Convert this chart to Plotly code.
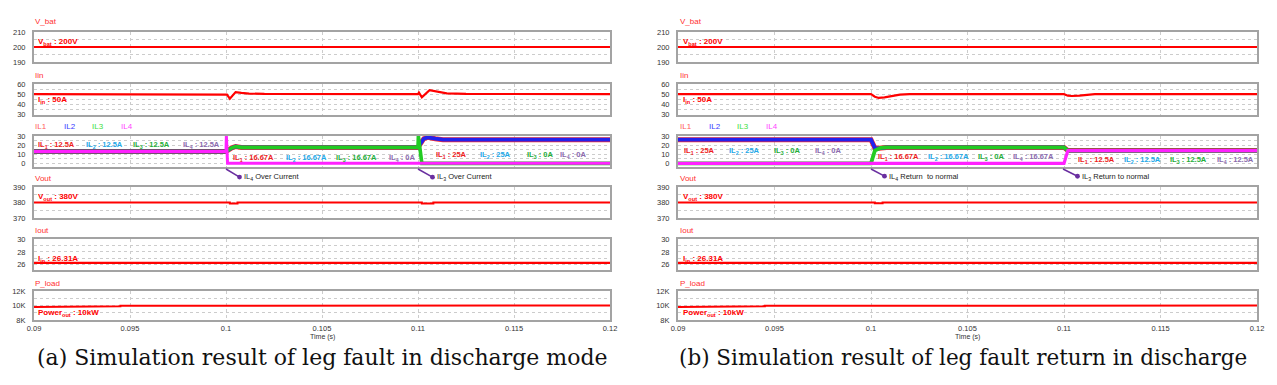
import plotly.graph_objects as go

# page body has an 8px margin; figure sized to fit the 1277x385 window
PAGE_W, PAGE_H = 1277, 385
OFF = 8
W, H = PAGE_W - 2 * OFF, PAGE_H - 2 * OFF

# ---------------- data ----------------
x_ticks = [0.09, 0.095, 0.1, 0.105, 0.11, 0.115, 0.12]
x_tick_text = ["0.09", "0.095", "0.1", "0.105", "0.11", "0.115", "0.12"]

# axis ranges / ticks per row
vbat_range = [190, 210]; vbat_ticks = [190, 200, 210]
iin_range = [30, 60];   iin_ticks = [30, 40, 50, 60]
il_range = [-4, 30];    il_ticks = [0, 10, 20, 30]
vout_range = [370, 390]; vout_ticks = [370, 380, 390]
iout_range = [25.2, 30]; iout_ticks = [26, 28, 30]
pload_range = [8000, 12000]; pload_ticks = [8000, 10000, 12000]
pload_tick_text = ["8K", "10K", "12K"]

# (a) leg fault in discharge mode
t_vbat_a = [0.09, 0.12]
vbat_a = [200, 200]
t_iin_a = [0.09, 0.1, 0.10005, 0.1002, 0.1005, 0.1008, 0.1012, 0.102, 0.11, 0.11005, 0.1102, 0.1106, 0.111, 0.1115, 0.1125, 0.12]
iin_a = [50, 50, 49.5, 45.5, 52, 51.3, 50.6, 50.2, 50, 51.5, 47, 54, 52.5, 50.8, 50.2, 50]
t_il12_a = [0.09, 0.1, 0.1003, 0.1005, 0.1008, 0.11, 0.1103, 0.1105, 0.1109, 0.1113, 0.12]
il1_a = [13, 13, 17, 18.5, 17.5, 17.5, 27, 28.5, 27, 26, 26]
il2_a = [13, 13, 17, 18.5, 17.5, 17.5, 27, 28.5, 27, 26, 26]
t_il3_a = [0.09, 0.1, 0.1003, 0.1005, 0.1008, 0.11, 0.11002, 0.1102, 0.12]
il3_a = [13, 13, 17, 18.5, 17.5, 17.5, 30, 0, 0]
t_il4_a = [0.09, 0.1, 0.10002, 0.10008, 0.12]
il4_a = [13, 13, 30, 0, 0]
t_vout_a = [0.09, 0.1002, 0.1002, 0.1006, 0.1006, 0.1102, 0.1102, 0.1108, 0.1108, 0.12]
vout_a = [380, 380, 379.4, 379.4, 380, 380, 379.4, 379.4, 380, 380]
t_iout_a = [0.09, 0.12]
iout_a = [26.31, 26.31]
t_pload_a = [0.09, 0.0906, 0.0906, 0.0945, 0.0945, 0.0991, 0.0991, 0.12]
pload_a = [9800, 9800, 9900, 9900, 9950, 9950, 10000, 10000]

# (b) leg fault return in discharge
t_vbat_b = [0.09, 0.12]
vbat_b = [200, 200]
t_iin_b = [0.09, 0.1, 0.1002, 0.1004, 0.1007, 0.101, 0.1015, 0.102, 0.11, 0.1102, 0.1104, 0.1108, 0.1116, 0.12]
iin_b = [50, 50, 47.5, 46.3, 46.8, 48, 49.5, 50.1, 50, 48.5, 48.2, 48.6, 50, 50]
t_il12_b = [0.09, 0.1, 0.1002, 0.1004, 0.1008, 0.11, 0.1102, 0.12]
il1_b = [26, 26, 16.8, 16.5, 17.5, 17.5, 14, 14]
il2_b = [26, 26, 16.8, 16.5, 17.5, 17.5, 14, 14]
t_il3_b = [0.09, 0.1, 0.1002, 0.1005, 0.1008, 0.11, 0.1102, 0.12]
il3_b = [0, 0, 14, 17, 17.5, 17.5, 14, 14]
t_il4_b = [0.09, 0.11, 0.1102, 0.12]
il4_b = [0, 0, 14, 14]
t_vout_b = [0.09, 0.1002, 0.1002, 0.1006, 0.1006, 0.12]
vout_b = [380, 380, 379.5, 379.5, 380, 380]
t_iout_b = [0.09, 0.12]
iout_b = [26.31, 26.31]
t_pload_b = [0.09, 0.0906, 0.0906, 0.0945, 0.0945, 0.0991, 0.0991, 0.12]
pload_b = [9800, 9800, 9900, 9900, 9950, 9950, 10000, 10000]

# ---------------- layout helpers ----------------
rows_px = [(32, 62), (84, 114.5), (136, 167), (187, 218), (239, 270), (291, 320)]
cols_px = [(34, 610), (678, 1257)]
row_axes = [
    (vbat_range, vbat_ticks, [str(v) for v in vbat_ticks], 5),
    (iin_range, iin_ticks, [str(v) for v in iin_ticks], 5),
    (il_range, il_ticks, [str(v) for v in il_ticks], 5),
    (vout_range, vout_ticks, [str(v) for v in vout_ticks], 5),
    (iout_range, iout_ticks, [str(v) for v in iout_ticks], 1),
    (pload_range, pload_ticks, pload_tick_text, 1000),
]


def px(x):
    return (x - OFF) / W


def py(y):
    return 1 - (y - OFF) / H


RED = "#ff0000"
C_IL1, C_IL2, C_IL3, C_IL4 = "#ff2a2a", "#2222ee", "#22cc22", "#ff22ff"
GRID = "#cccccc"
BORDER = "#a3a3a3"
TICKFONT = dict(family="Liberation Sans, Arial, sans-serif", size=7.5, color="#333333")

fig = go.Figure()


def aid(c, r):
    return c * 6 + r + 1


for c, (x0, x1) in enumerate(cols_px):
    for r, (y0, y1) in enumerate(rows_px):
        i = aid(c, r)
        rng, tv, tt, mdt = row_axes[r]
        xa = "xaxis" if i == 1 else f"xaxis{i}"
        ya = "yaxis" if i == 1 else f"yaxis{i}"
        fig.update_layout({
            xa: dict(domain=[px(x0), px(x1)], anchor="y" if i == 1 else f"y{i}",
                     range=[0.09, 0.12], tickmode="array", tickvals=x_ticks, ticktext=x_tick_text,
                     showticklabels=(r == 5), ticks="", tickfont=TICKFONT, automargin=False,
                     showgrid=True, gridcolor=GRID, griddash="dot", gridwidth=1,
                     showline=True, mirror=True, linecolor=BORDER, linewidth=2,
                     zeroline=False, fixedrange=True),
            ya: dict(domain=[py(y1), py(y0)], anchor="x" if i == 1 else f"x{i}",
                     range=rng, tickmode="array", tickvals=tv, ticktext=tt,
                     ticks="", tickfont=TICKFONT, ticklabelstandoff=5, automargin=False,
                     showgrid=True, gridcolor=GRID, griddash="dot", gridwidth=1,
                     minor=dict(dtick=mdt, showgrid=True, gridcolor=GRID, griddash="dot", gridwidth=1),
                     showline=True, mirror=True, linecolor=BORDER, linewidth=2,
                     zeroline=False, fixedrange=True),
        })


def add_line(c, r, t, v, color, width):
    i = aid(c, r)
    fig.add_trace(go.Scatter(x=t, y=v, mode="lines", line=dict(color=color, width=width),
                             xaxis="x" if i == 1 else f"x{i}", yaxis="y" if i == 1 else f"y{i}",
                             showlegend=False, hoverinfo="skip", cliponaxis=True))


# panel (a)
add_line(0, 0, t_vbat_a, vbat_a, RED, 2)
add_line(0, 1, t_iin_a, iin_a, RED, 2.2)
add_line(0, 2, t_il12_a, il1_a, C_IL1, 5)
add_line(0, 2, t_il12_a, il2_a, C_IL2, 3.8)
add_line(0, 2, t_il3_a, il3_a, C_IL3, 3.6)
add_line(0, 2, t_il4_a, il4_a, C_IL4, 3)
add_line(0, 3, t_vout_a, vout_a, RED, 2)
add_line(0, 4, t_iout_a, iout_a, RED, 2.2)
add_line(0, 5, t_pload_a, pload_a, RED, 2)
# panel (b)
add_line(1, 0, t_vbat_b, vbat_b, RED, 2)
add_line(1, 1, t_iin_b, iin_b, RED, 2.2)
add_line(1, 2, t_il12_b, il1_b, C_IL1, 5)
add_line(1, 2, t_il12_b, il2_b, C_IL2, 3.8)
add_line(1, 2, t_il3_b, il3_b, C_IL3, 3.8)
add_line(1, 2, t_il4_b, il4_b, C_IL4, 3.2)
add_line(1, 3, t_vout_b, vout_b, RED, 2)
add_line(1, 4, t_iout_b, iout_b, RED, 2.2)
add_line(1, 5, t_pload_b, pload_b, RED, 2)


def txt(x, y, s, color, size=8, bold=False, family="Liberation Sans, Arial, sans-serif", anchor="left"):
    fig.add_annotation(x=px(x), y=py(y), xref="paper", yref="paper",
                       text=f"<b>{s}</b>" if bold else s, showarrow=False,
                       xanchor=anchor, yanchor="middle", borderpad=0,
                       font=dict(family=family, size=size, color=color))


def arrow(x, y, dx, dy):
    fig.add_annotation(x=px(x), y=py(y), xref="paper", yref="paper", text="",
                       showarrow=True, ax=dx, ay=dy, arrowside="start", startarrowhead=6,
                       startarrowsize=0.8, arrowwidth=1.5, arrowcolor="#6a2fa0")


NAMECOL = "#ff3030"
LBL_R, LBL_B, LBL_G, LBL_P = "#ee1c1c", "#22a8e8", "#1fae3a", "#8a6aae"
names = ["V_bat", "Iin", "Vout", "Iout", "P_load"]
name_y = [22, 75, 178, 231, 283]
for xo in (34, 679):
    for n, yy in zip(names, name_y):
        txt(xo, yy, n, NAMECOL, 8)
    for k, (lab, col) in enumerate(zip(["IL1", "IL2", "IL3", "IL4"], ["#ff5a5a", "#3a3aff", "#3ee03e", "#ff44ff"])):
        txt(xo + k * 28.7, 127, lab, col, 8)
    txt(xo + 3, 42, "V<sub>bat</sub> : 200V", RED, 8, True)
    txt(xo + 3, 100, "I<sub>in</sub> : 50A", RED, 8, True)
    txt(xo + 3, 197, "V<sub>out</sub> : 380V", RED, 8, True)
    txt(xo + 3, 259, "I<sub>in</sub> : 26.31A", RED, 8, True)
    txt(xo + 3, 313, "Power<sub>out</sub> : 10kW", RED, 8, True)

# IL value labels
for x, y, s, col in [
    (37, 145, "IL<sub>1</sub> : 12.5A", LBL_R), (85, 145, "IL<sub>2</sub> : 12.5A", LBL_B),
    (132, 145, "IL<sub>3</sub> : 12.5A", LBL_G), (182, 145, "IL<sub>4</sub> : 12.5A", LBL_P),
    (232, 158, "IL<sub>1</sub> : 16.67A", LBL_R), (285, 158, "IL<sub>2</sub> : 16.67A", LBL_B),
    (335, 158, "IL<sub>3</sub> : 16.67A", LBL_G), (388, 158, "IL<sub>4</sub> : 0A", LBL_P),
    (435, 155, "IL<sub>1</sub> : 25A", LBL_R), (479, 155, "IL<sub>2</sub> : 25A", LBL_B),
    (526, 155, "IL<sub>3</sub> : 0A", LBL_G), (559, 155, "IL<sub>4</sub> : 0A", LBL_P),
    (683, 151, "IL<sub>1</sub> : 25A", LBL_R), (728, 151, "IL<sub>2</sub> : 25A", LBL_B),
    (773, 151, "IL<sub>3</sub> : 0A", LBL_G), (814, 151, "IL<sub>4</sub> : 0A", LBL_P),
    (877, 157, "IL<sub>1</sub> : 16.67A", LBL_R), (927, 157, "IL<sub>2</sub> : 16.67A", LBL_B),
    (977, 157, "IL<sub>3</sub> : 0A", LBL_G), (1012, 157, "IL<sub>4</sub> : 16.67A", LBL_P),
    (1077, 160, "IL<sub>1</sub> : 12.5A", LBL_R), (1123, 160, "IL<sub>2</sub> : 12.5A", LBL_B),
    (1169, 160, "IL<sub>3</sub> : 12.5A", LBL_G), (1216, 160, "IL<sub>4</sub> : 12.5A", LBL_P),
]:
    txt(x, y, s, col, 7.5, True)

# event arrows
arrow(226, 169, 15, 9)
txt(243, 177, "IL<sub>4</sub> Over Current", "#222222", 7.5)
arrow(418, 169, 16, 9)
txt(436, 177, "IL<sub>3</sub> Over Current", "#222222", 7.5)
arrow(871, 169, 15, 8)
txt(888, 176.5, "IL<sub>4</sub> Return\u00a0 to normal", "#222222", 7.5)
arrow(1063, 169, 16, 8)
txt(1081, 177, "IL<sub>3</sub> Return to normal", "#222222", 7.5)

# time axis titles
txt(322, 337, "Time (s)", "#333333", 7, anchor="center")
txt(967, 337, "Time (s)", "#333333", 7, anchor="center")

# captions
CAPFONT = "DejaVu Serif, Liberation Serif, serif"
txt(322, 357, "(a) Simulation result of leg fault in discharge mode", "#111111", 22, family=CAPFONT, anchor="center")
txt(963, 357, "(b) Simulation result of leg fault return in discharge", "#111111", 21.5, family=CAPFONT, anchor="center")

fig.update_layout(width=W, height=H, margin=dict(l=0, r=0, t=0, b=0, autoexpand=False),
                  paper_bgcolor="white", plot_bgcolor="white", showlegend=False)

fig.write_html("out.html")
